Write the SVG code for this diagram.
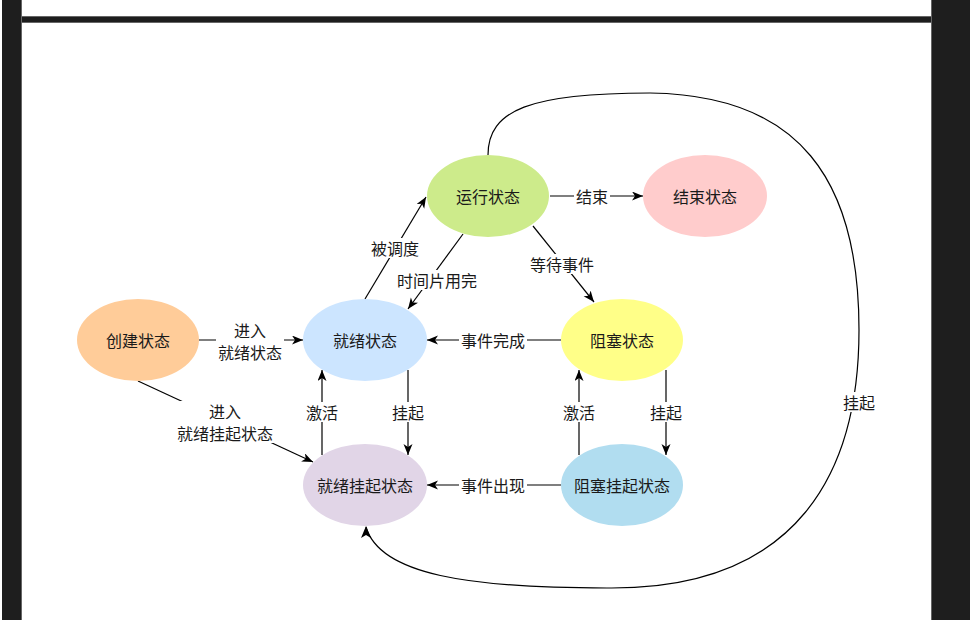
<svg xmlns="http://www.w3.org/2000/svg" width="970" height="620" viewBox="0 0 970 620">
<style>
text{font-family:"Noto Sans CJK SC","Noto Sans",sans-serif;font-size:16px;fill:#1a1a1a;text-anchor:middle;dominant-baseline:central}
.e{stroke:#000;stroke-width:1.2;fill:none}
.a{marker-end:url(#arr)}
.bg{fill:#fff}
</style>
<defs>
<marker id="arr" markerUnits="userSpaceOnUse" markerWidth="12" markerHeight="10" refX="11" refY="4.5" orient="auto">
<path d="M0,0 L11,4.5 L0,9 L3,4.5 Z" fill="#000"/>
</marker>
</defs>
<rect x="0" y="0" width="970" height="620" fill="#fff"/>
<g id="frame">
<rect x="2" y="0" width="20" height="620" fill="#1e1e1e"/>
<rect x="21" y="0" width="1" height="620" fill="#666"/>
<rect x="22" y="16" width="910" height="7" fill="#1e1e1e"/>
<rect x="22" y="16" width="909" height="1" fill="#666"/>
<rect x="22" y="22" width="909" height="1" fill="#666"/>
<rect x="931" y="0" width="39" height="620" fill="#1e1e1e"/>
<rect x="931" y="0" width="1" height="620" fill="#666"/>
</g>
<g id="connectors">
<path class="e" d="M488,155 C488,110 530,93 650,93 C800,95 859,180 859,330 C859,470 800,590 607,588 C470,588 380,575 366,527"/>
<path class="e a" d="M199,340 L303,340"/>
<path class="e a" d="M138,381 L313,462"/>
<path class="e a" d="M365,299 L426,197"/>
<path class="e a" d="M463,234 L408,309"/>
<path class="e a" d="M533,226 L594,302"/>
<path class="e a" d="M550,196 L643,196"/>
<path class="e a" d="M561,340 L427,340"/>
<path class="e a" d="M408,370 L408,455"/>
<path class="e a" d="M322,455 L322,370"/>
<path class="e a" d="M579,455 L579,370"/>
<path class="e a" d="M666,370 L666,455"/>
<path class="e a" d="M561,485 L427,485"/>
<path d="M371,538 L366,526 L361,538 L366,535 Z" fill="#000"/>
<g id="labels">
<rect class="bg" x="216" y="320" width="68" height="42"/>
<text x="250" y="330">进入</text><text x="250" y="352">就绪状态</text>
<rect class="bg" x="175" y="401" width="100" height="42"/>
<text x="225" y="411">进入</text><text x="225" y="433">就绪挂起状态</text>
<rect class="bg" x="370" y="238" width="50" height="20"/>
<text x="395" y="248">被调度</text>
<rect class="bg" x="396" y="270" width="82" height="20"/>
<text x="437" y="280">时间片用完</text>
<rect class="bg" x="528" y="254" width="68" height="20"/>
<text x="562" y="264">等待事件</text>
<rect class="bg" x="574" y="186" width="36" height="20"/>
<text x="592" y="196">结束</text>
<rect class="bg" x="459" y="330" width="68" height="20"/>
<text x="493" y="340">事件完成</text>
<rect class="bg" x="459" y="475" width="68" height="20"/>
<text x="493" y="485">事件出现</text>
<rect class="bg" x="390" y="402" width="36" height="20"/>
<text x="408" y="412">挂起</text>
<rect class="bg" x="304" y="402" width="36" height="20"/>
<text x="322" y="412">激活</text>
<rect class="bg" x="561" y="402" width="36" height="20"/>
<text x="579" y="412">激活</text>
<rect class="bg" x="648" y="402" width="36" height="20"/>
<text x="666" y="412">挂起</text>
<rect class="bg" x="841" y="392" width="36" height="20"/>
<text x="859" y="402">挂起</text>
</g>
</g>
<g id="run"><ellipse cx="488" cy="196" rx="61" ry="41" fill="#cdeb8b"/><text x="488" y="196">运行状态</text></g>
<g id="end"><ellipse cx="705" cy="196" rx="62" ry="41" fill="#ffcccc"/><text x="705" y="196">结束状态</text></g>
<g id="create"><ellipse cx="138" cy="340" rx="61" ry="41" fill="#ffcc99"/><text x="138" y="340">创建状态</text></g>
<g id="ready"><ellipse cx="365" cy="340" rx="62" ry="41" fill="#cce5ff"/><text x="365" y="340">就绪状态</text></g>
<g id="blocked"><ellipse cx="622" cy="340" rx="61" ry="41" fill="#ffff88"/><text x="622" y="340">阻塞状态</text></g>
<g id="readysusp"><ellipse cx="365" cy="485" rx="62" ry="41" fill="#e1d5e7"/><text x="365" y="485">就绪挂起状态</text></g>
<g id="blockedsusp"><ellipse cx="622" cy="485" rx="61" ry="41" fill="#b1ddf0"/><text x="622" y="485">阻塞挂起状态</text></g>
</svg>
